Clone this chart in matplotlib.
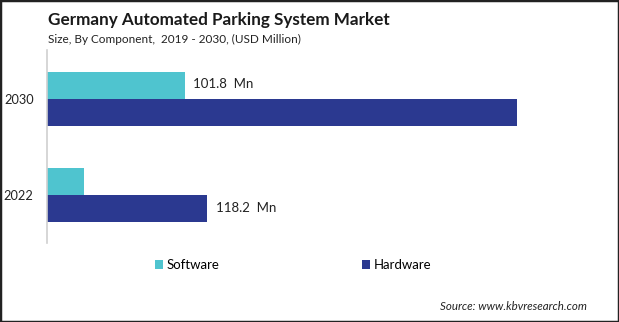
import matplotlib
matplotlib.use("Agg")
import matplotlib.pyplot as plt
import numpy as np

years = ["2022", "2030"]
series = ["Software", "Hardware"]
software = [27.1, 101.8]
hardware = [118.2, 349.0]
labels_software = [None, "101.8  Mn"]
labels_hardware = ["118.2  Mn", None]

colors = {"Software": "#4fc4cf", "Hardware": "#2b3990"}

plt.rcParams["font.family"] = ["Lato", "DejaVu Sans"]

fig = plt.figure(figsize=(6.19, 3.22), dpi=100)
ax = fig.add_axes([47.5 / 619, 1 - 243 / 322, 552 / 619, 193 / 322])

y = np.arange(len(years))
h = 0.28
b1 = ax.barh(y + h / 2, software, height=h, color=colors["Software"], label="Software")
b2 = ax.barh(y - h / 2, hardware, height=h, color=colors["Hardware"], label="Hardware")

for bar, lab in zip(b1, labels_software):
    if lab:
        ax.text(bar.get_width() + 6, bar.get_y() + bar.get_height() / 2 + 0.02, lab,
                va="center", ha="left", fontsize=9.5, color="#222222")
for bar, lab in zip(b2, labels_hardware):
    if lab:
        ax.text(bar.get_width() + 7, bar.get_y() + bar.get_height() / 2, lab,
                va="center", ha="left", fontsize=9.5, color="#222222")

ax.set_ylim(-0.5, 1.51)
ax.set_xlim(0, 410)
ax.set_yticks(y, labels=years)
ax.tick_params(axis="y", length=0, pad=10, labelsize=9.2, labelcolor="#222222")
ax.set_xticks([])
for s in ("top", "right", "bottom"):
    ax.spines[s].set_visible(False)
ax.spines["left"].set_color("#d0d0d0")
ax.spines["left"].set_linewidth(1.2)

fig.text(48 / 619, 1 - 20 / 322, "Germany Automated Parking System Market",
         fontsize=12.3, fontweight="bold", color="#1a1a1a", va="center", ha="left")
fig.text(48 / 619, 1 - 39 / 322, "Size, By Component,  2019 - 2030, (USD Million)",
         fontsize=8.5, color="#222222", va="center", ha="left")

fig.legend(handles=[b1, b2], labels=series, loc="center left",
           bbox_to_anchor=(155 / 619, 1 - 265 / 322), ncol=2, frameon=False,
           fontsize=9.5, handlelength=0.6, handleheight=0.6, handletextpad=0.3,
           columnspacing=10.8, borderaxespad=0, borderpad=0)

fig.text(587 / 619, 1 - 306 / 322, "Source: www.kbvresearch.com", fontsize=8.3,
         style="italic", color="#222222", ha="right", va="center")

# dark frame around the picture
frame = plt.Rectangle((0, 0), 1, 1, transform=fig.transFigure, fill=False,
                      edgecolor="#222222", linewidth=2.5)
fig.add_artist(frame)

fig.savefig("out.png", dpi=100)
